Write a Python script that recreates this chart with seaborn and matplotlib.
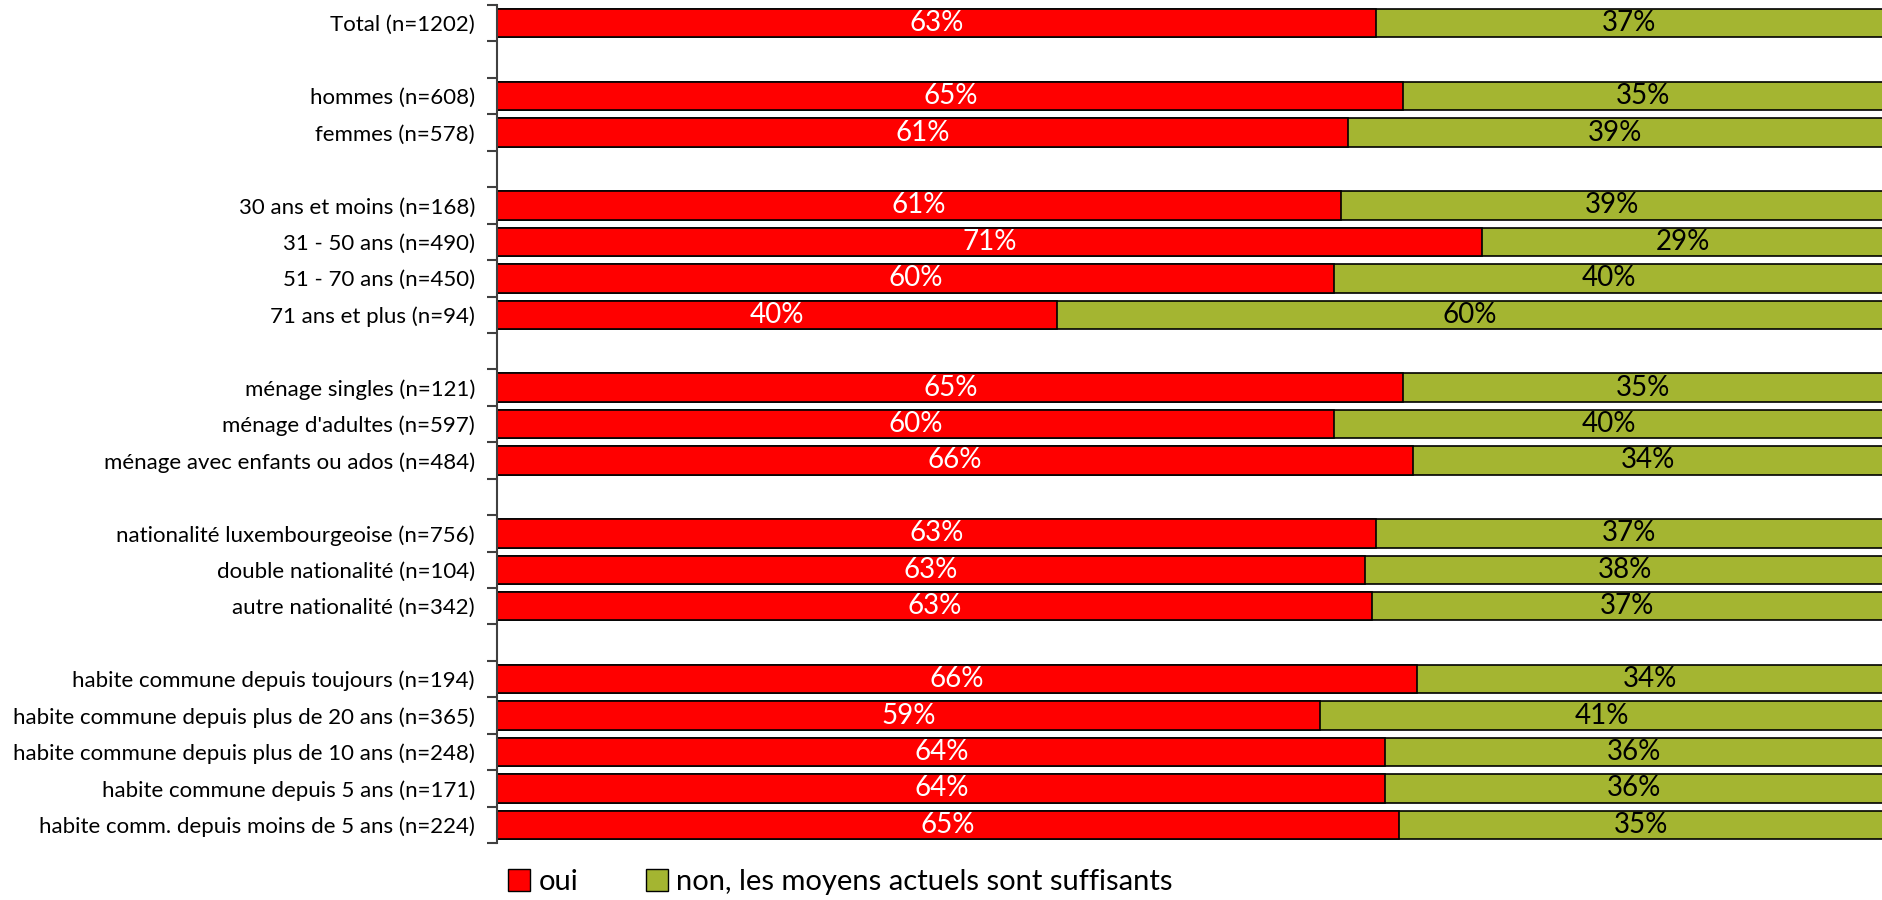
import numpy as np
import pandas as pd
import matplotlib
matplotlib.use("Agg")
import matplotlib.pyplot as plt
from matplotlib.patches import Patch
import seaborn as sns

# catégories (avec lignes vides entre les groupes)
categories = [
    "Total (n=1202)", " ",
    "hommes (n=608)", "femmes (n=578)", "  ",
    "30 ans et moins (n=168)", "31 - 50 ans (n=490)", "51 - 70 ans (n=450)", "71 ans et plus (n=94)", "   ",
    "ménage singles (n=121)", "ménage d'adultes (n=597)", "ménage avec enfants ou ados (n=484)", "    ",
    "nationalité luxembourgeoise (n=756)", "double nationalité (n=104)", "autre nationalité (n=342)", "     ",
    "habite commune depuis toujours (n=194)", "habite commune depuis plus de 20 ans (n=365)",
    "habite commune depuis plus de 10 ans (n=248)", "habite commune depuis 5 ans (n=171)",
    "habite comm. depuis moins de 5 ans (n=224)",
]
groups = [c for c in categories if c.strip()]

oui = [63.4, 65.4, 61.4, 60.9, 71.1, 60.4, 40.4, 65.4, 60.4, 66.1,
       63.4, 62.6, 63.1, 66.4, 59.4, 64.1, 64.1, 65.1]
non = [36.6, 34.6, 38.6, 39.1, 28.9, 39.6, 59.6, 34.6, 39.6, 33.9,
       36.6, 37.6, 36.9, 33.6, 40.6, 35.9, 35.9, 34.9]

RED = "#FF0000"
GREEN = "#A4B531"

df = pd.DataFrame({"cat": groups, "oui": oui, "non": non})
df["total"] = df["oui"] + df["non"]

plt.rcParams["font.family"] = ["Lato", "DejaVu Sans"]
fig = plt.figure(figsize=(18.83, 9.0), dpi=100)
ax = fig.add_axes([0.264, 0.0633, 0.736, 0.9311])

sns.barplot(data=df, x="total", y="cat", order=categories, orient="h",
            color=GREEN, saturation=1, width=0.78, edgecolor="black",
            linewidth=1.2, ax=ax)
sns.barplot(data=df, x="oui", y="cat", order=categories, orient="h",
            color=RED, saturation=1, width=0.78, edgecolor="black",
            linewidth=1.2, ax=ax)

pos = {c: i for i, c in enumerate(categories)}
for _, r in df.iterrows():
    y = pos[r["cat"]]
    ax.text(r["oui"] / 2, y, f"{r['oui']:.0f}%", ha="center", va="center",
            color="white", fontsize=20)
    ax.text(r["oui"] + r["non"] / 2, y, f"{r['non']:.0f}%", ha="center",
            va="center", color="black", fontsize=20)

ax.set_xlim(0, 100)
ax.set_ylim(len(categories) - 0.5, -0.5)
ax.set_xlabel("")
ax.set_ylabel("")
ax.xaxis.set_visible(False)
for s in ["top", "right", "bottom"]:
    ax.spines[s].set_visible(False)
ax.spines["left"].set_color("#404040")
ax.spines["left"].set_linewidth(1.5)
ax.set_yticks(range(len(categories)))
ax.set_yticklabels(categories, fontsize=16)
ax.set_yticks(np.arange(-0.5, len(categories), 1), minor=True)
ax.tick_params(axis="y", which="major", length=0, pad=16)
ax.tick_params(axis="y", which="minor", length=7, width=1.5, color="#404040")
ax.set_facecolor("white")

handles = [Patch(facecolor=RED, edgecolor="black"),
           Patch(facecolor=GREEN, edgecolor="black")]
fig.legend(handles, ["oui", "non, les moyens actuels sont suffisants"],
           loc="lower left", bbox_to_anchor=(0.256, -0.024), ncol=2, frameon=False,
           fontsize=21, handlelength=0.75, handleheight=0.75, handletextpad=0.3,
           columnspacing=2.3)

fig.savefig("out.png", dpi=100, facecolor="white")
